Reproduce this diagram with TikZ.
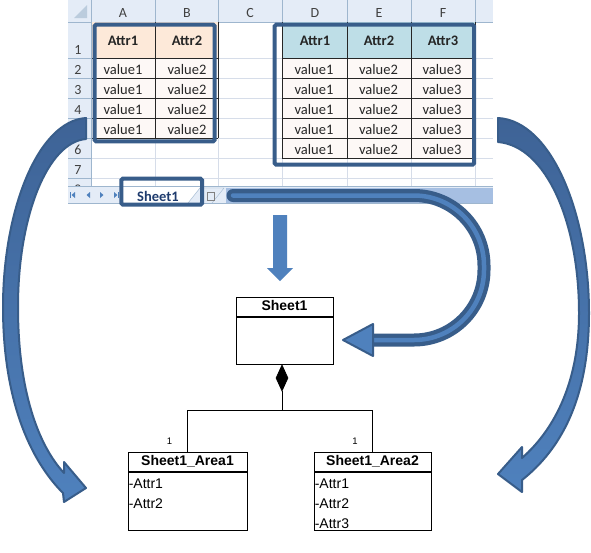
\documentclass[tikz,border=0pt]{standalone}
\usepackage{fontspec}
\setmainfont{Carlito}
\newfontfamily\umlfont{Liberation Sans}
\usetikzlibrary{positioning,shapes.geometric}

\definecolor{framecol}{RGB}{56,93,138}
\definecolor{arrowfill}{RGB}{79,129,189}
\definecolor{arrowdark}{RGB}{62,99,150}
\definecolor{peach}{RGB}{253,233,217}
\definecolor{attrblue}{RGB}{190,222,231}
\definecolor{cellfill}{RGB}{253,248,246}
\definecolor{gridcol}{RGB}{214,221,233}
\definecolor{hdrfill}{RGB}{228,236,247}
\definecolor{hdrline}{RGB}{158,182,206}
\definecolor{scrollcol}{RGB}{166,191,226}
\definecolor{tabtext}{RGB}{31,60,110}
\definecolor{celltext}{RGB}{38,38,38}

\tikzset{
  cell/.style={font=\fontsize{14.5}{16}\selectfont, text=celltext, text height=10.5pt, text depth=0pt, inner sep=0pt},
  attrcell/.style={cell, font=\fontsize{14.5}{16}\selectfont\bfseries},
  hdr/.style={font=\fontsize{14}{16}\selectfont, text=black!75, text height=10.5pt, text depth=0pt, inner sep=0pt},
  areaframe/.style={draw=framecol, line width=4pt, rounded corners=1.5pt},
  blockarrow/.style={fill=arrowfill, draw=framecol, line width=2pt, line join=round},
  curvearrow/.style={blockarrow, top color=arrowdark, bottom color=arrowfill},
  classhead/.style={draw, line width=0.8pt, inner sep=0pt, minimum height=19pt, text height=10pt, text depth=2pt, font=\umlfont\fontsize{14}{16}\selectfont\bfseries},
  classbody/.style={draw, line width=0.8pt, inner sep=0pt},
  attrs/.style={align=left, inner xsep=1pt, inner ysep=6.5pt, font=\umlfont\fontsize{14}{20}\selectfont},
  mult/.style={font=\umlfont\fontsize{9.5}{11}\selectfont, inner sep=0pt}
}

\begin{document}
\begin{tikzpicture}[x=1pt,y=-1pt]
  \fill[white] (0,0) rectangle (591,552);
  \useasboundingbox (0,0) rectangle (591,552);

  % worksheet grid and headers
  \fill[white] (68,0) rectangle (493,203);
  \foreach \x in {155,218,282,347,411,475}
    \draw[gridcol] (\x,22) -- (\x,186);
  \foreach \y in {58,78,...,178}
    \draw[gridcol] (91,\y) -- (493,\y);
  \fill[hdrfill] (68,0) rectangle (493,22);
  \fill[hdrfill] (68,22) rectangle (91,186);
  \draw[hdrline] (68,22) -- (493,22);
  \draw[hdrline] (91,0) -- (91,186);
  \foreach \x in {155,218,282,347,411,475}
    \draw[hdrline] (\x,0) -- (\x,22);
  \foreach \y in {58,78,...,178}
    \draw[hdrline] (68,\y) -- (91,\y);
  \fill[hdrline!70] (87,5) -- (87,18) -- (74,18) -- cycle;
  \foreach \c/\x in {A/123,B/187,C/250,D/315,E/379,F/443}
    \node[hdr] (col\c) at (\x,12) {\c};
  \node[hdr] (row1) at (78,49) {1};
  \foreach \r in {2,...,8}
    \node[hdr] (row\r) at (78,{29.25+20*\r}) {\r};

  % first area
  \fill[peach] (92,22) rectangle (218,58);
  \fill[cellfill] (92,58) rectangle (218,138);
  \foreach \y in {58,78,...,138}
    \draw[black!85,line width=0.8pt] (92,\y) -- (218,\y);
  \draw[black!85,line width=0.8pt] (155,22) -- (155,138) (218,22) -- (218,138);
  \node[attrcell] (lattrA) at (123,40) {Attr1};
  \node[attrcell] (lattrB) at (187,40) {Attr2};
  \foreach \r in {1,...,4} {
    \node[cell] (lvA\r) at (123,{49+20*\r}) {value1};
    \node[cell] (lvB\r) at (187,{49+20*\r}) {value2};
  }

  % second area
  \fill[attrblue] (282,22) rectangle (475,58);
  \fill[cellfill] (282,58) rectangle (475,158);
  \foreach \y in {58,78,...,158}
    \draw[black!85,line width=0.8pt] (282,\y) -- (475,\y);
  \foreach \x in {282,347,411,475}
    \draw[black!85,line width=0.8pt] (\x,22) -- (\x,158);
  \node[attrcell] (rattrA) at (315,40) {Attr1};
  \node[attrcell] (rattrB) at (379,40) {Attr2};
  \node[attrcell] (rattrC) at (443,40) {Attr3};
  \foreach \r in {1,...,5} {
    \node[cell] (rvA\r) at (314,{49+20*\r}) {value1};
    \node[cell] (rvB\r) at (378.5,{49+20*\r}) {value2};
    \node[cell] (rvC\r) at (442,{49+20*\r}) {value3};
  }

  % sheet tabs and scroll bar
  \fill[hdrfill] (68,186) rectangle (493,203);
  \draw[hdrline] (68,186.5) -- (493,186.5);
  \draw[hdrline] (68,203) -- (493,203);
  \fill[scrollcol] (226,188) rectangle (493,203);
  \fill[arrowfill] (75,192) -- (75,198) -- (71.5,195) -- cycle;
  \draw[arrowfill,line width=1pt] (70.5,192) -- (70.5,198);
  \fill[arrowfill] (90,192) -- (90,198) -- (86.5,195) -- cycle;
  \fill[arrowfill] (100,192) -- (100,198) -- (103.5,195) -- cycle;
  \fill[arrowfill] (114,192) -- (114,198) -- (117.5,195) -- cycle;
  \draw[arrowfill,line width=1pt] (118.5,192) -- (118.5,198);
  \fill[white] (122,187) -- (122,203) -- (188,203) -- (200,187) -- cycle;
  \node[font=\fontsize{14.5}{16}\selectfont\bfseries, text=tabtext] (tab) at (158,196) {Sheet1};
  \draw[hdrline] (188,203) -- (200,188) -- (224,188) (212,203) -- (224,188);
  \draw[black!50] (207,192) rectangle (214,200);

  % highlighted regions
  \draw[areaframe] (94.5,24.7) rectangle (214.7,141.3);
  \draw[areaframe] (274.7,24.7) rectangle (474,164.7);
  \draw[areaframe] (121.3,178.7) rectangle (202,204.7);

  % class diagram
  \node[classhead, minimum width=97pt, anchor=north] (sheet) at (284.5,297) {Sheet1};
  \node[classbody, minimum width=97pt, minimum height=47pt, anchor=north] (sheetbody) at (sheet.south) {};
  \node[classhead, minimum width=119pt, anchor=north] (area1) at (187.5,452) {Sheet1\_Area1};
  \node[classbody, minimum width=119pt, minimum height=58pt, anchor=north] (area1body) at (area1.south) {};
  \node[classhead, minimum width=117pt, anchor=north] (area2) at (372.5,452) {Sheet1\_Area2};
  \node[classbody, minimum width=117pt, minimum height=58pt, anchor=north] (area2body) at (area2.south) {};
  \node[attrs, anchor=north west] (area1attrs) at (area1body.north west) {-Attr1\\-Attr2};
  \node[attrs, anchor=north west] (area2attrs) at (area2body.north west) {-Attr1\\-Attr2\\-Attr3};
  \node[diamond, draw, fill, line width=0.8pt, minimum width=12pt, minimum height=26pt, inner sep=0pt, anchor=north] (comp) at ([xshift=-2.5pt]sheetbody.south) {};
  \draw[line width=0.8pt] (comp.south) -- ++(0,19) coordinate (split);
  \draw[line width=0.8pt] (split) -| (area1.north);
  \draw[line width=0.8pt] (split) -| (area2.north);
  \node[mult] (mult1) at ([xshift=-18pt,yshift=11pt]area1.north) {1};
  \node[mult] (mult2) at ([xshift=-17.5pt,yshift=11pt]area2.north) {1};

  % block arrows
  \draw[curvearrow] (86,118) .. controls (38,121) and (3,210) .. (3,307)
    .. controls (3,400) and (30,460) .. (63,493) -- (64,502) -- (86,488)
    -- (64,462) -- (64,473) .. controls (38,445) and (18,390) .. (18,307)
    .. controls (18,215) and (48,142) .. (86,139) -- cycle;
  \draw[curvearrow] (498,118) .. controls (552,121) and (589,215) .. (589,313)
    .. controls (589,400) and (560,450) .. (522,480) -- (522,492) -- (498,474)
    -- (522,447) -- (522,458) .. controls (556,428) and (579,380) .. (579,313)
    .. controls (579,222) and (546,146) .. (498,142) -- cycle;
  \fill[arrowfill] (273,215) -- (287,215) -- (287,268) -- (293,268) -- (280,281)
    -- (267,268) -- (273,268) -- cycle;
  \draw[draw=framecol, double=arrowfill, double distance=4.5pt, line width=4.25pt,
    line cap=round, rounded corners=70pt] (233,195.5) -- (484,195.5) -- (484,340) -- (373,340);
  \draw[blockarrow] (373,324) -- (343,340) -- (373,356) -- cycle;
\end{tikzpicture}
\end{document}
